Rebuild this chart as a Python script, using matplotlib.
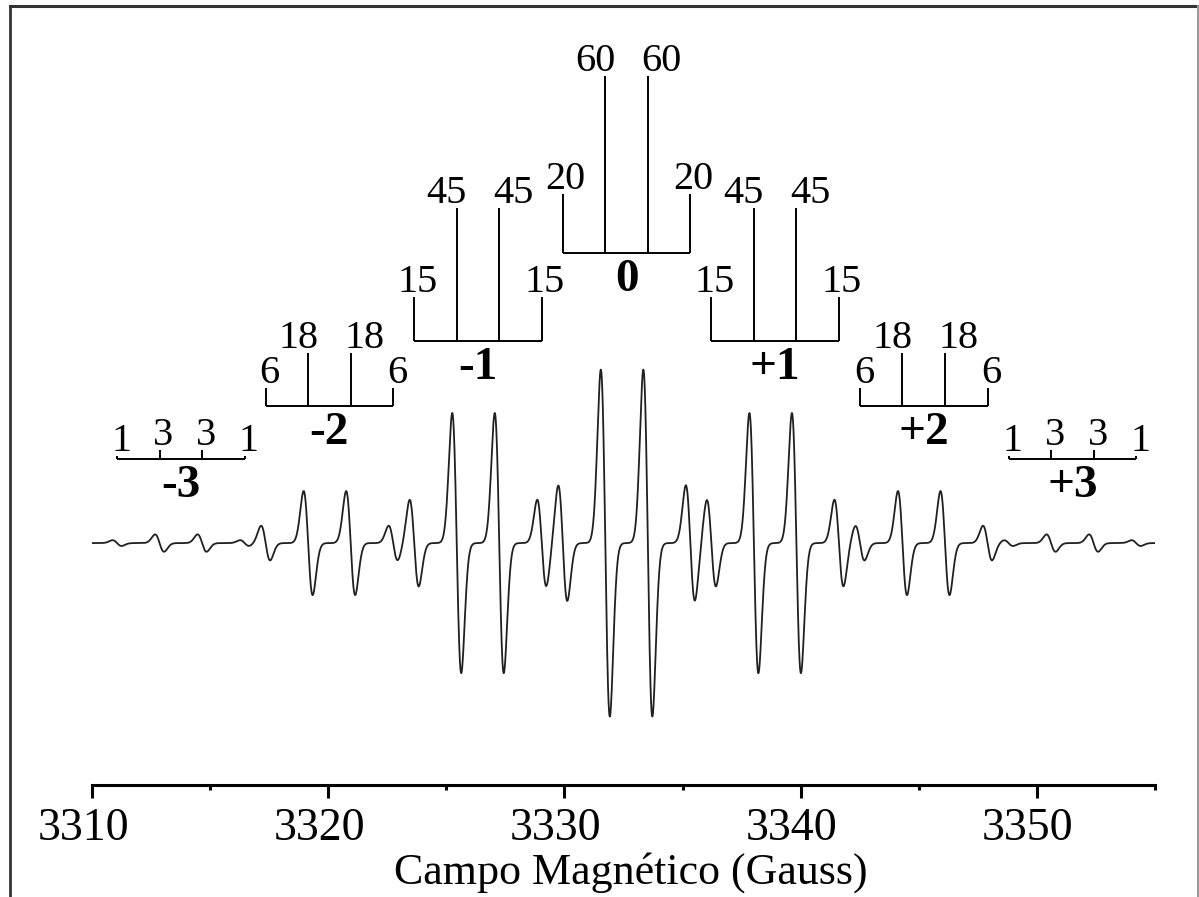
"""Espectro de RPE simulado com diagramas de barras dos grupos hiperfinos"""

import numpy as np
import matplotlib.pyplot as plt
from matplotlib.lines import Line2D
from matplotlib.ticker import MultipleLocator
from matplotlib.transforms import ScaledTranslation

# Parâmetros do espectro
campo_central = 3332.63   # G
a_grupo = 6.29            # separação entre grupos (G)
a_linha = 1.80            # separação entre linhas de um grupo (G)
sigma = 0.19              # largura gaussiana (G)
amplitude = 0.98          # altura do pico por unidade de intensidade

grupos = [-3, -2, -1, 0, 1, 2, 3]
rotulos_grupos = ['-3', '-2', '-1', '0', '+1', '+2', '+3']
intensidades = [[1, 3, 3, 1],
                [6, 18, 18, 6],
                [15, 45, 45, 15],
                [20, 60, 60, 20],
                [15, 45, 45, 15],
                [6, 18, 18, 6],
                [1, 3, 3, 1]]
m_linha = [-1.5, -0.5, 0.5, 1.5]
# altura da base de cada diagrama (mesma unidade das intensidades)
base_diagramas = [28.5, 46.4, 68.5, 98.4, 68.5, 46.4, 28.5]

campo_min, campo_max = 3310, 3355
ticks_maiores = [3310, 3320, 3330, 3340, 3350]

# Construindo o espectro (derivada de gaussianas)
campo = np.linspace(campo_min, campo_max, 6000)
sinal = np.zeros_like(campo)
for g, ints in zip(grupos, intensidades):
    for m, I in zip(m_linha, ints):
        x0 = campo_central + g * a_grupo + m * a_linha
        u = (campo - x0) / sigma
        sinal += amplitude * I * (-u) * np.exp(0.5 - u ** 2 / 2)

plt.rcParams['font.family'] = ['Liberation Serif', 'DejaVu Serif']

W, H = 1199, 897
fig = plt.figure(figsize=(W / 100, H / 100), dpi=100)
ax = fig.add_axes([92 / W, 1 - 785 / H, (1155 - 92) / W, (785 - 20) / H])
ax.set_xlim(campo_min, campo_max)
ax.set_ylim(-82.0, 177.3)

ax.plot(campo, sinal, color='#202020', lw=1.3)

# Diagramas de barras
for g, rot, ints, base in zip(grupos, rotulos_grupos, intensidades, base_diagramas):
    xs = [campo_central + g * a_grupo + m * a_linha for m in m_linha]
    ax.plot([xs[0], xs[-1]], [base, base], color='k', lw=1.4, solid_capstyle='butt')
    for i, (x, I) in enumerate(zip(xs, ints)):
        ax.plot([x, x], [base, base + I], color='k', lw=1.4, solid_capstyle='butt')
        dx = 3
        if I >= 10 and i == 1:
            dx = -10
        elif I >= 10 and i == 2:
            dx = 14
        elif I < 10:
            dx = 4
        ax.annotate(str(I), (x, base + I), xytext=(dx * 0.72, 5 * 0.72),
                    textcoords='offset points', ha='center', va='baseline',
                    fontsize=29)
    xc = np.mean(xs)
    ax.annotate(rot, (xc, base), xytext=(0, -38 * 0.72), textcoords='offset points',
                ha='center', va='baseline', fontsize=34, fontweight='bold')

# Eixos
for lado in ['left', 'right', 'top']:
    ax.spines[lado].set_visible(False)
ax.spines['bottom'].set_linewidth(2.2)
ax.set_yticks([])
ax.set_xticks(ticks_maiores)
ax.xaxis.set_minor_locator(MultipleLocator(5))
ax.tick_params(axis='x', which='major', length=9.4, width=2.2, labelsize=33, pad=7)
ax.tick_params(axis='x', which='minor', length=3.6, width=2.2)
desloc = ScaledTranslation(-9 / 100, 0, fig.dpi_scale_trans)
for rotulo in ax.get_xticklabels():
    rotulo.set_transform(rotulo.get_transform() + desloc)
ax.set_xlabel('Campo Magnético (Gauss)', fontsize=31.7)
ax.xaxis.set_label_coords((630.5 - 92) / (1155 - 92), -(884 - 785) / (785 - 20))
ax.xaxis.label.set_va('baseline')
ax.patch.set_visible(False)

# Moldura da figura
def px(x, y):
    return x / W, 1 - y / H

for (x1, y1), (x2, y2), cor, lw in [((10, 6), (1198, 6), '#333333', 2.2),
                                    ((10.5, 6), (10.5, 900), '#333333', 2.0),
                                    ((1197.5, 6), (1197.5, 900), '#999999', 1.4)]:
    (fx1, fy1), (fx2, fy2) = px(x1, y1), px(x2, y2)
    fig.add_artist(Line2D([fx1, fx2], [fy1, fy2], transform=fig.transFigure,
                          color=cor, lw=lw, clip_on=False))

fig.savefig('out.png', dpi=100)
